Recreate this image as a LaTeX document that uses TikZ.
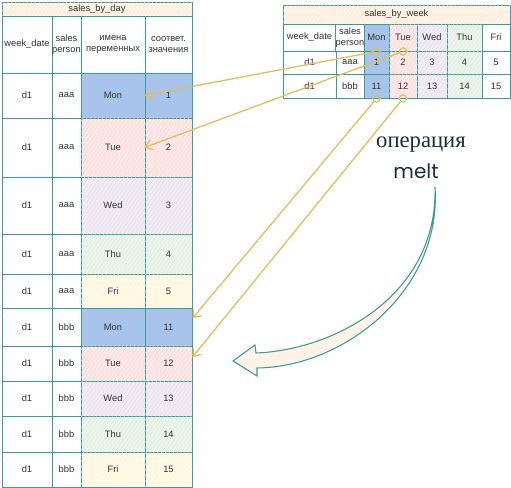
\documentclass[tikz,border=0pt]{standalone}
\usepackage{fontspec}
\setmainfont{Liberation Sans}
\newfontfamily\opfont{Liberation Serif}
\newfontfamily\meltfont{Poppins}
\usetikzlibrary{arrows.meta,patterns.meta}
\definecolor{tabline}{HTML}{3E9A9A}
\definecolor{celltext}{HTML}{333333}
\definecolor{monc}{HTML}{A9C4EB}
\definecolor{tuec}{HTML}{F8CECC}
\definecolor{wedc}{HTML}{E1D5E7}
\definecolor{thuc}{HTML}{D5E8D4}
\definecolor{fric}{HTML}{FFF2CC}
\definecolor{titlec}{HTML}{FFE6CC}
\definecolor{linkc}{HTML}{E0BF62}
\definecolor{opc}{HTML}{1B2D3B}
\begin{document}
\begin{tikzpicture}[x=0.75pt,y=-0.75pt,>={Straight Barb[length=5pt,width=8pt]},
    cell/.style={draw=tabline,line width=0.7pt,inner sep=0pt,align=center,text=celltext,font=\fontsize{7}{8.4}\selectfont},
    wd/.style={minimum width=(#1)*0.75pt},
    ht/.style={minimum height=(#1)*0.75pt},
    plain/.style={fill=white},
    mon/.style={fill=monc},
    hatch/.style={fill=#1!45,postaction={pattern={Lines[angle=55,distance=2.4pt,line width=0.25pt]},pattern color=#1}},
    tue/.style={hatch=tuec},
    wed/.style={hatch=wedc},
    thu/.style={hatch=thuc},
    fri/.style={hatch=fric},
    ttl/.style={hatch=titlec},
    ring/.style={circle,draw=linkc,line width=0.9pt,minimum size=5.5pt,inner sep=0pt},
    link/.style={draw=linkc,line width=1pt,->}]
  \useasboundingbox (0,0) rectangle (511,488);

  % sales_by_day (long form)
  \node[cell,ttl,wd=190,ht=14] (dayttl) at (97,9) {sales\_by\_day};
  \node[cell,plain,wd=50,ht=57] (dh1) at (27,44.5) {week\_date};
  \node[cell,plain,wd=29,ht=57] (dh2) at (66.5,44.5) {sales\\person};
  \node[cell,plain,wd=64,ht=57] (dh3) at (113,44.5) {имена\\переменных};
  \node[cell,plain,wd=47,ht=57] (dh4) at (168.5,44.5) {соответ.\\значения};
  \foreach \ya/\yb/\p/\d/\v/\s [count=\i] in {73/118/aaa/Mon/1/mon,118/177/aaa/Tue/2/tue,
      177/234/aaa/Wed/3/wed,234/274/aaa/Thu/4/thu,274/308/aaa/Fri/5/fri,
      308/346/bbb/Mon/11/mon,346/381/bbb/Tue/12/tue,381/416/bbb/Wed/13/wed,
      416/452/bbb/Thu/14/thu,452/487/bbb/Fri/15/fri}{
    \node[cell,plain,wd=50,ht=\yb-\ya] (dd\i) at (27,{(\ya+\yb)/2}) {d1};
    \node[cell,plain,wd=29,ht=\yb-\ya] (dp\i) at (66.5,{(\ya+\yb)/2}) {\p};
    \node[cell,\s,wd=64,ht=\yb-\ya] (day\i) at (113,{(\ya+\yb)/2}) {\d};
    \node[cell,\s,wd=47,ht=\yb-\ya] (val\i) at (168.5,{(\ya+\yb)/2}) {\v};
  }

  % sales_by_week (wide form)
  \node[cell,ttl,wd=227,ht=19] (wkttl) at (396.5,14.5) {sales\_by\_week};
  \foreach \xa/\xb/\h/\r/\q/\s [count=\j] in {283/336/week\_date/d1/d1/plain,
      336/364/{sales\\person}/aaa/bbb/plain,364/389/Mon/1/11/mon,389/417/Tue/2/12/tue,
      417/447/Wed/3/13/wed,447/482/Thu/4/14/thu,482/510/Fri/5/15/plain}{
    \node[cell,\s,wd=\xb-\xa,ht=27] (wh\j) at ({(\xa+\xb)/2},37.5) {\h};
    \node[cell,\s,wd=\xb-\xa,ht=23] (wa\j) at ({(\xa+\xb)/2},62.5) {\r};
    \node[cell,\s,wd=\xb-\xa,ht=24] (wb\j) at ({(\xa+\xb)/2},86) {\q};
  }

  % links
  \node[ring] (m1) at (wh3.south) {};
  \node[ring] (t1) at (wh4.south) {};
  \node[ring] (m2) at (wb3.south) {};
  \node[ring] (t2) at (wb4.south) {};
  \draw[link] (m1) -- (val1.west);
  \draw[link] (t1) -- (val2.west);
  \draw[link] (m2) -- (val6.20);
  \draw[link] (t2) -- (val7.15);

  % melt arrow
  \node[font=\opfont\fontsize{17}{20}\selectfont,text=opc,anchor=base] (op) at (421,148) {операция};
  \node[font=\meltfont\fontsize{15}{18}\selectfont,text=opc,anchor=base] (melt) at (416,179) {melt};
  \draw[tabline,line width=0.8pt,fill=titlec!50] (435,187) .. controls (438,295) and (335,350) .. (256,353)
    -- (255,345) -- (233,361) -- (257,376) -- (257,368) .. controls (345,367) and (442,290) .. (435,187) -- cycle;
\end{tikzpicture}
\end{document}
